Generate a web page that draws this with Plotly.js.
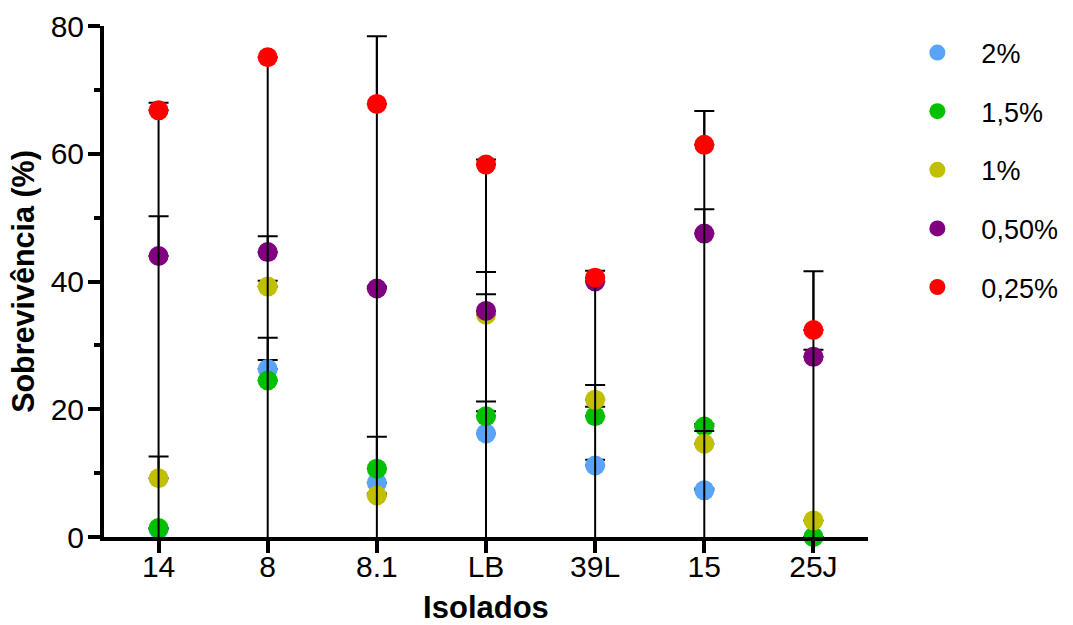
<!DOCTYPE html>
<html>
<head>
<meta charset="utf-8">
<script src="https://cdn.plot.ly/plotly-3.0.1.min.js"></script>
<style>html,body{margin:0;padding:0;background:#fff;}#chart{width:1073px;height:625px;}</style>
</head>
<body>
<div id="chart"></div>
<script>
// Categories (isolates)
const categories = ['14', '8', '8.1', 'LB', '39L', '15', '25J'];

// Series names
const seriesNames = ['2%', '1,5%', '1%', '0,50%', '0,25%'];

// Mean survival (%) per series
const s2   = [1.2, 26.3, 8.5, 16.2, 11.2, 7.3, 0];
const s15  = [1.4, 24.5, 10.7, 18.9, 18.9, 17.3, 0];
const s1   = [9.2, 39.2, 6.5, 34.8, 21.5, 14.6, 2.6];
const s05  = [44.0, 44.6, 38.9, 35.4, 40.0, 47.5, 28.2];
const s025 = [66.8, 75.1, 67.8, 58.3, 40.6, 61.4, 32.4];

// Upper error (SD) per series
const e2   = [0, 1.4, 0, 5.0, 0.9, 0.3, 0];
const e15  = [0, 6.7, 5.0, 0.8, 1.5, 0.4, 0];
const e1   = [3.4, 0.9, 0.3, 3.2, 2.3, 2.0, 0];
const e05  = [6.2, 2.5, 0.3, 6.1, 0, 3.8, 1.1];
const e025 = [1.2, 0, 10.6, 0.8, 1.1, 5.3, 9.2];

const colors = ['#5aa4f8', '#00c000', '#c0c000', '#800080', '#ff0000'];

const values = [s2, s15, s1, s05, s025];
const errors = [e2, e15, e1, e05, e025];

const FONT = 'Liberation Sans, Arial, sans-serif';

function seriesTrace(i) {
  const v = values[i];
  return {
    type: 'scatter',
    mode: 'markers',
    name: seriesNames[i],
    legendgroup: 'g' + i,
    x: categories,
    y: v,
    cliponaxis: false,
    marker: {color: colors[i], size: 20, line: {width: 0}},
    error_y: {
      type: 'data',
      symmetric: false,
      array: errors[i],
      arrayminus: v.map(() => 0),
      color: '#000',
      thickness: 2,
      width: 10
    }
  };
}

// Vertical stem from 0 up to the highest point of each column (derived from data)
const colTop = categories.map((_, k) =>
  Math.max(...values.map((v, i) => v[k] + errors[i][k])));
const stemTrace = {
  type: 'scatter',
  mode: 'markers',
  x: categories,
  y: colTop,
  showlegend: false,
  hoverinfo: 'skip',
  cliponaxis: false,
  marker: {size: 1, color: 'rgba(0,0,0,0)'},
  error_y: {
    type: 'data', symmetric: false,
    array: colTop.map(() => 0),
    arrayminus: colTop,
    color: '#000', thickness: 2, width: 0
  }
};

const traces = [seriesTrace(0), seriesTrace(1), seriesTrace(2), seriesTrace(3), stemTrace, seriesTrace(4)];

const layout = {
  width: 1073,
  height: 625,
  margin: {l: 104, r: 205, t: 26, b: 87.5, autoexpand: false},
  paper_bgcolor: '#fff',
  plot_bgcolor: '#fff',
  font: {family: FONT, color: '#000', size: 30},
  showlegend: true,
  legend: {
    x: 1.0332, xanchor: 'left',
    y: 0.995, yanchor: 'top',
    font: {family: FONT, size: 27, color: '#000'},
    itemwidth: 78,
    tracegroupgap: 20.5,
    bgcolor: 'rgba(0,0,0,0)'
  },
  xaxis: {
    type: 'category',
    range: [-0.5, 6.5],
    showline: true, linecolor: '#000', linewidth: 4,
    ticks: 'outside', ticklen: 12, tickwidth: 4, tickcolor: '#000',
    showgrid: false, zeroline: false,
    tickfont: {family: FONT, size: 30, color: '#000'},
    ticklabelstandoff: -12,
    title: {text: 'Isolados', font: {family: FONT, size: 31, color: '#000', weight: 'bold'}, standoff: 17}
  },
  yaxis: {
    range: [0, 80],
    tickvals: [0, 20, 40, 60, 80],
    showline: true, linecolor: '#000', linewidth: 4,
    ticks: 'outside', ticklen: 12, tickwidth: 4, tickcolor: '#000',
    minor: {tickvals: [10, 30, 50, 70], ticks: 'outside', ticklen: 6, tickwidth: 4, tickcolor: '#000'},
    showgrid: false, zeroline: false,
    tickfont: {family: FONT, size: 30, color: '#000'},
    ticklabelstandoff: -2,
    title: {text: 'Sobrevivência (%)', font: {family: FONT, size: 30.5, color: '#000', weight: 'bold'}, standoff: 8}
  }
};

Plotly.newPlot('chart', traces, layout, {displayModeBar: false, staticPlot: true});
</script>
</body>
</html>
